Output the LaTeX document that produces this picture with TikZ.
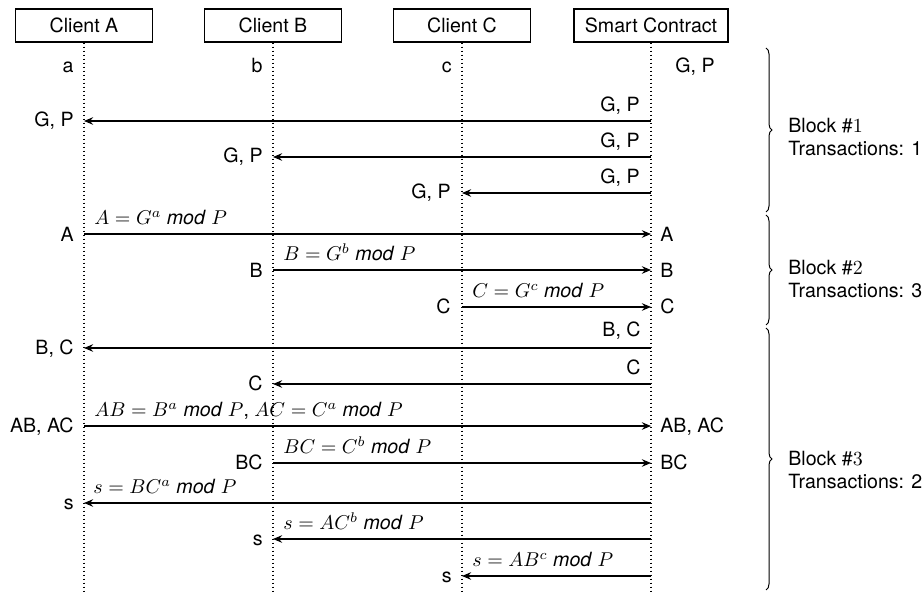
\documentclass[tikz,border=0pt]{standalone}
\usepackage{fontspec}
\setmainfont{TeX Gyre Heros}
\usetikzlibrary{arrows.meta,decorations.pathreplacing}
\newcommand{\md}{\textit{mod}}
\begin{document}
\begin{tikzpicture}[x=0.5pt,y=-0.5pt,
  font=\fontsize{9.8}{11.8}\selectfont,
  actor/.style={draw,line width=0.55pt,minimum height=16.5pt,inner sep=0pt},
  life/.style={line width=0.65pt,dash pattern=on 0.55pt off 1.45pt},
  msg/.style={line width=0.55pt,-{Stealth[length=4.6pt,width=3.8pt,inset=1.6pt]}},
  lblE/.style={anchor=base east,inner sep=0pt},
  lblW/.style={anchor=base west,inner sep=0pt},
  blk/.style={decorate,decoration={brace,amplitude=3pt},line width=0.5pt},
  blktxt/.style={anchor=west,align=left,inner sep=0pt}]
\useasboundingbox (0,0) rectangle (923,593);
% actors
\node[actor,minimum width=68.5pt] (ca) at (84,25.5) {Client A};
\node[actor,minimum width=68.5pt] (cb) at (273,25.5) {Client B};
\node[actor,minimum width=68.5pt] (cc) at (462,25.5) {Client C};
\node[actor,minimum width=77pt] (sc) at (651,25.5) {Smart Contract};
% lifelines
\coordinate (caend) at (84,591);
\coordinate (cbend) at (273,591);
\coordinate (ccend) at (462,591);
\coordinate (scend) at (651,591);
\draw[life] (ca) -- (caend);
\draw[life] (cb) -- (cbend);
\draw[life] (cc) -- (ccend);
\draw[life] (sc) -- (scend);
% row 0
\node[lblE] (la) at (74,73) {a};
\node[lblE] (lb) at (263,73) {b};
\node[lblE] (lc) at (452,73) {c};
\node[lblW] (lgp) at (675,73) {G, P};
% row 1-3: G,P
\coordinate (s1) at (651,121); \coordinate (e1) at (84,121);
\draw[msg] (s1) -- (e1);
\node[lblE] (t1) at (640,111.5) {G, P};
\node[lblE] (r1) at (74,127) {G, P};
\coordinate (s2) at (651,157); \coordinate (e2) at (273,157);
\draw[msg] (s2) -- (e2);
\node[lblE] (t2) at (640,147.5) {G, P};
\node[lblE] (r2) at (263,163) {G, P};
\coordinate (s3) at (651,193); \coordinate (e3) at (462,193);
\draw[msg] (s3) -- (e3);
\node[lblE] (t3) at (640,183.5) {G, P};
\node[lblE] (r3) at (451,199) {G, P};
% row 4-6: public values
\coordinate (s4) at (84,234); \coordinate (e4) at (651,234);
\draw[msg] (s4) -- (e4);
\node[lblW] (t4) at (94,225) {$A = G^a$ \md{} $P$};
\node[lblE] (q4) at (74,241.5) {A};
\node[lblW] (r4) at (660,241.5) {A};
\coordinate (s5) at (273,270); \coordinate (e5) at (651,270);
\draw[msg] (s5) -- (e5);
\node[lblW] (t5) at (283,261) {$B = G^b$ \md{} $P$};
\node[lblE] (q5) at (263,277.5) {B};
\node[lblW] (r5) at (660,277.5) {B};
\coordinate (s6) at (462,307); \coordinate (e6) at (651,307);
\draw[msg] (s6) -- (e6);
\node[lblW] (t6) at (472,298) {$C = G^c$ \md{} $P$};
\node[lblE] (q6) at (451,314) {C};
\node[lblW] (r6) at (660,314) {C};
% row 7-8
\coordinate (s7) at (651,348); \coordinate (e7) at (84,348);
\draw[msg] (s7) -- (e7);
\node[lblE] (t7) at (641,337) {B, C};
\node[lblE] (r7) at (74,355) {B, C};
\coordinate (s8) at (651,384); \coordinate (e8) at (273,384);
\draw[msg] (s8) -- (e8);
\node[lblE] (t8) at (641,374.5) {C};
\node[lblE] (r8) at (263,391) {C};
% row 9-10
\coordinate (s9) at (84,426); \coordinate (e9) at (651,426);
\draw[msg] (s9) -- (e9);
\node[lblW] (t9) at (94,416.5) {$AB = B^a$ \md{} $P$, $AC = C^a$ \md{} $P$};
\node[lblE] (q9) at (74,433) {AB, AC};
\node[lblW] (r9) at (660,433) {AB, AC};
\coordinate (s10) at (273,463); \coordinate (e10) at (651,463);
\draw[msg] (s10) -- (e10);
\node[lblW] (t10) at (283,453.5) {$BC = C^b$ \md{} $P$};
\node[lblE] (q10) at (263,470) {BC};
\node[lblW] (r10) at (660,470) {BC};
% row 11-13
\coordinate (s11) at (651,503); \coordinate (e11) at (84,503);
\draw[msg] (s11) -- (e11);
\node[lblW] (t11) at (93,493.5) {$s = BC^a$ \md{} $P$};
\node[lblE] (r11) at (74,510) {s};
\coordinate (s12) at (651,539); \coordinate (e12) at (273,539);
\draw[msg] (s12) -- (e12);
\node[lblW] (t12) at (283,529.5) {$s = AC^b$ \md{} $P$};
\node[lblE] (r12) at (263,546) {s};
\coordinate (s13) at (651,576); \coordinate (e13) at (462,576);
\draw[msg] (s13) -- (e13);
\node[lblW] (t13) at (472,566.5) {$s = AB^c$ \md{} $P$};
\node[lblE] (r13) at (452,583) {s};
% braces
\coordinate (b1a) at (766,48); \coordinate (b1b) at (766,212);
\coordinate (b2a) at (766,215); \coordinate (b2b) at (766,325);
\coordinate (b3a) at (766,328); \coordinate (b3b) at (766,590);
\draw[blk] (b1a) -- (b1b);
\draw[blk] (b2a) -- (b2b);
\draw[blk] (b3a) -- (b3b);
\node[blktxt] (k1) at (788,137) {Block $\#1$\\Transactions: 1};
\node[blktxt] (k2) at (788,279) {Block $\#2$\\Transactions: 3};
\node[blktxt] (k3) at (788,470) {Block $\#3$\\Transactions: 2};
\end{tikzpicture}
\end{document}
